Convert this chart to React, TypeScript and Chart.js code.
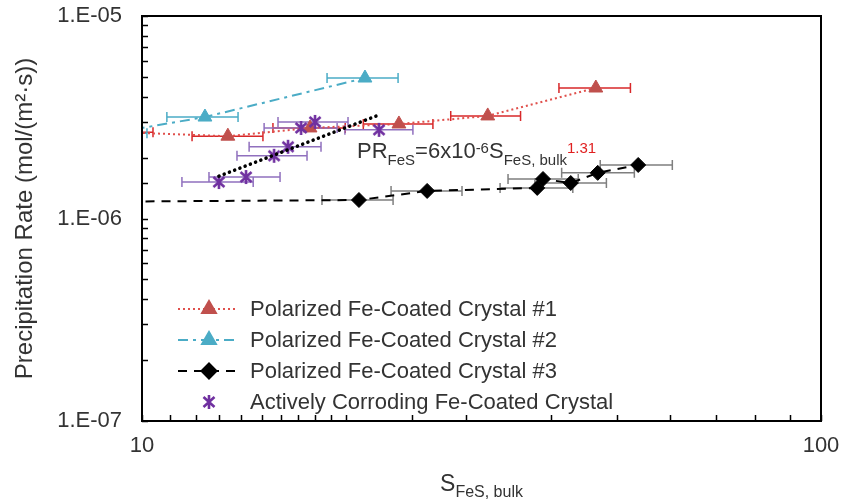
import React, { useEffect, useRef } from 'react';
import { Chart, registerables } from 'chart.js';
import { drawPoint } from 'chart.js/helpers';

Chart.register(...registerables);

const FONT = '"Liberation Sans", Arial, sans-serif';
const TEXT = '#333333';

// ---- axis ticks ----
const xLabeledTicks = [10, 100];
const xTickLabels = ['10', '100'];
const yLabeledTicks = [1e-7, 1e-6, 1e-5];
const yTickLabels = ['1.E-07', '1.E-06', '1.E-05'];

// ---- series 1: Polarized Fe-Coated Crystal #1 ----
const s1X = [9.22, 13.38, 17.68, 23.9, 32.3, 46.6];
const s1Y = [2.67e-6, 2.55e-6, 2.8e-6, 2.93e-6, 3.21e-6, 4.41e-6];
const s1XLow = [8.2, 11.85, 15.59, 21.18, 28.49, 41.12];
const s1XHigh = [10.38, 15.07, 19.92, 26.82, 36.1, 52.4];

// ---- series 2: Polarized Fe-Coated Crystal #2 ----
const s2X = [9.03, 12.38, 21.3];
const s2Y = [2.64e-6, 3.17e-6, 4.94e-6];
const s2XLow = [8.0, 10.88, 18.73];
const s2XHigh = [10.17, 13.85, 23.83];

// ---- series 3: Polarized Fe-Coated Crystal #3 ----
const s3X = [8.6, 20.87, 26.3, 38.2, 38.96, 42.8, 46.9, 53.8];
const s3Y = [1.21e-6, 1.234e-6, 1.368e-6, 1.416e-6, 1.567e-6, 1.497e-6, 1.68e-6, 1.838e-6];
const s3XLow = [7.65, 18.41, 23.27, 33.68, 34.6, 37.9, 41.5, 47.3];
const s3XHigh = [9.7, 23.43, 29.6, 43.1, 43.9, 48.3, 53.1, 60.4];

// ---- series 4: Actively Corroding Fe-Coated Crystal ----
const s4X = [12.98, 14.23, 15.65, 16.41, 17.15, 17.98, 22.34];
const s4Y = [1.514e-6, 1.603e-6, 2.04e-6, 2.26e-6, 2.8e-6, 3.0e-6, 2.74e-6];
const s4XLow = [11.45, 12.55, 13.8, 14.38, 15.13, 15.86, 19.9];
const s4XHigh = [14.58, 15.97, 17.5, 18.35, 19.38, 20.11, 25.06];

// ---- power-law trendline of series 4 (end points) ----
const trendX = [12.98, 22.3];
const trendY = [1.62e-6, 3.24e-6];

const legendLabels = [
  'Polarized Fe-Coated Crystal #1',
  'Polarized Fe-Coated Crystal #2',
  'Polarized Fe-Coated Crystal #3',
  'Actively Corroding Fe-Coated Crystal',
];

const RED = '#C0504D';
const RED_LINE = '#E0504C';
const RED_BAR = '#D8282A';
const BLUE = '#4BACC6';
const BLACK = '#000000';
const GRAY_BAR = '#7F7F7F';
const PURPLE = '#7030A0';
const PURPLE_BAR = '#9070BE';

function pts(xs: number[], ys: number[]) {
  return xs.map((x, i) => ({ x, y: ys[i] }));
}

function makeAsterisk(): HTMLCanvasElement {
  const c = document.createElement('canvas');
  c.width = 16;
  c.height = 16;
  const g = c.getContext('2d')!;
  g.strokeStyle = PURPLE;
  g.lineWidth = 2.6;
  g.lineCap = 'butt';
  g.beginPath();
  g.moveTo(2.5, 3);
  g.lineTo(13.5, 13);
  g.moveTo(13.5, 3);
  g.lineTo(2.5, 13);
  g.moveTo(8, 1);
  g.lineTo(8, 15);
  g.stroke();
  return c;
}

function matchLabel(v: number, ticks: number[], labels: string[]) {
  for (let i = 0; i < ticks.length; i++) {
    if (Math.abs(Math.log10(v) - Math.log10(ticks[i])) < 1e-6) return labels[i];
  }
  return '';
}

type Part = { t: string; size: number; dy: number; color?: string };

function drawRich(ctx: CanvasRenderingContext2D, x: number, base: number, parts: Part[], measureOnly = false) {
  let cx = x;
  for (const p of parts) {
    ctx.font = `${p.size}px ${FONT}`;
    if (!measureOnly) {
      ctx.fillStyle = p.color || TEXT;
      ctx.fillText(p.t, cx, base + p.dy);
    }
    cx += ctx.measureText(p.t).width;
  }
  return cx - x;
}

export default function App() {
  const ref = useRef<HTMLCanvasElement>(null);

  useEffect(() => {
    const canvas = ref.current!;
    const star = makeAsterisk();

    const errorSets = [
      { xs: s1X, ys: s1Y, lo: s1XLow, hi: s1XHigh, color: RED_BAR },
      { xs: s2X, ys: s2Y, lo: s2XLow, hi: s2XHigh, color: BLUE },
      { xs: s3X, ys: s3Y, lo: s3XLow, hi: s3XHigh, color: GRAY_BAR },
      { xs: s4X, ys: s4Y, lo: s4XLow, hi: s4XHigh, color: PURPLE_BAR },
    ];

    const legendItems = [
      { label: legendLabels[0], line: RED_LINE, dash: [2, 3], style: 'triangle', radius: 8, color: RED },
      { label: legendLabels[1], line: BLUE, dash: [10, 5, 3, 5], style: 'triangle', radius: 8, color: BLUE },
      { label: legendLabels[2], line: BLACK, dash: [9, 7], style: 'rectRot', radius: 7.5, color: BLACK },
      { label: legendLabels[3], line: null, dash: [], style: star, radius: 8, color: PURPLE },
    ];

    const overlay = {
      id: 'overlay',
      beforeDatasetsDraw(chart: any) {
        const { ctx, chartArea: a } = chart;
        const xs = chart.scales.x;
        const ys = chart.scales.y;
        ctx.save();
        ctx.beginPath();
        ctx.rect(a.left, a.top, a.right - a.left, a.bottom - a.top);
        ctx.clip();
        ctx.lineWidth = 1.5;
        for (const es of errorSets) {
          ctx.strokeStyle = es.color;
          es.xs.forEach((_: number, i: number) => {
            const py = ys.getPixelForValue(es.ys[i]);
            const x0 = xs.getPixelForValue(es.lo[i]);
            const x1 = xs.getPixelForValue(es.hi[i]);
            ctx.beginPath();
            ctx.moveTo(x0, py);
            ctx.lineTo(x1, py);
            ctx.moveTo(x0, py - 5);
            ctx.lineTo(x0, py + 5);
            ctx.moveTo(x1, py - 5);
            ctx.lineTo(x1, py + 5);
            ctx.stroke();
          });
        }
        ctx.restore();
      },
      afterDraw(chart: any) {
        const { ctx, chartArea: a } = chart;
        const xs = chart.scales.x;
        const ys = chart.scales.y;
        ctx.save();

        // inward tick marks
        ctx.strokeStyle = '#000';
        ctx.lineWidth = 1.5;
        ctx.beginPath();
        for (const t of ys.ticks) {
          const py = Math.round(ys.getPixelForValue(t.value)) + 0.5;
          ctx.moveTo(a.left, py);
          ctx.lineTo(a.left + 6, py);
        }
        for (const t of xs.ticks) {
          const px = Math.round(xs.getPixelForValue(t.value)) + 0.5;
          ctx.moveTo(px, a.bottom);
          ctx.lineTo(px, a.bottom - 6);
        }
        ctx.stroke();

        // frame
        ctx.lineWidth = 2;
        ctx.strokeRect(a.left, a.top, a.right - a.left, a.bottom - a.top);

        // y title
        ctx.save();
        ctx.translate(25, (a.top + a.bottom) / 2);
        ctx.rotate(-Math.PI / 2);
        ctx.font = `24px ${FONT}`;
        ctx.fillStyle = TEXT;
        ctx.textAlign = 'center';
        ctx.textBaseline = 'middle';
        ctx.fillText('Precipitation Rate (mol/(m²·s))', 0, 0);
        ctx.restore();

        // x title with subscript
        ctx.textBaseline = 'alphabetic';
        ctx.textAlign = 'left';
        const xt: Part[] = [
          { t: 'S', size: 23, dy: 0 },
          { t: 'FeS, bulk', size: 16, dy: 6 },
        ];
        const w = drawRich(ctx, 0, 0, xt, true);
        drawRich(ctx, (a.left + a.right) / 2 - w / 2, 491, xt);

        // equation annotation
        const eq: Part[] = [
          { t: 'PR', size: 22, dy: 0 },
          { t: 'FeS', size: 15, dy: 7 },
          { t: '=6x10', size: 22, dy: 0 },
          { t: '-6', size: 15, dy: -5 },
          { t: 'S', size: 22, dy: 0 },
          { t: 'FeS, bulk', size: 15, dy: 7 },
          { t: '1.31', size: 15, dy: -5, color: '#E02020' },
        ];
        drawRich(ctx, a.left + 215, a.top + 142, eq);

        // legend
        const rows = [309, 340, 371, 402];
        legendItems.forEach((it, i) => {
          const cy = rows[i];
          if (it.line) {
            ctx.save();
            ctx.strokeStyle = it.line;
            ctx.lineWidth = 2;
            ctx.setLineDash(it.dash);
            ctx.beginPath();
            ctx.moveTo(178, cy);
            ctx.lineTo(238, cy);
            ctx.stroke();
            ctx.restore();
          }
          ctx.save();
          ctx.fillStyle = it.color;
          ctx.strokeStyle = it.color;
          drawPoint(ctx, { pointStyle: it.style as any, radius: it.radius, rotation: 0, borderWidth: 1 } as any, 209, cy);
          ctx.restore();
          ctx.font = `22px ${FONT}`;
          ctx.fillStyle = TEXT;
          ctx.textBaseline = 'middle';
          ctx.textAlign = 'left';
          ctx.fillText(it.label, 250, cy + 1);
        });

        ctx.restore();
      },
    };

    const chart = new Chart(canvas, {
      type: 'line',
      data: {
        datasets: [
          {
            label: legendLabels[0],
            data: pts(s1X, s1Y),
            borderColor: RED_LINE,
            borderWidth: 2,
            borderDash: [2, 3],
            pointStyle: 'triangle',
            pointRadius: 8,
            pointBackgroundColor: RED,
            pointBorderColor: RED,
            pointBorderWidth: 1,
            order: 4,
          },
          {
            label: legendLabels[1],
            data: pts(s2X, s2Y),
            borderColor: BLUE,
            borderWidth: 2,
            borderDash: [10, 5, 3, 5],
            pointStyle: 'triangle',
            pointRadius: 8,
            pointBackgroundColor: BLUE,
            pointBorderColor: BLUE,
            pointBorderWidth: 1,
            order: 3,
          },
          {
            label: legendLabels[2],
            data: pts(s3X, s3Y),
            borderColor: BLACK,
            borderWidth: 2,
            borderDash: [9, 7],
            pointStyle: 'rectRot',
            pointRadius: 7.5,
            pointBackgroundColor: BLACK,
            pointBorderColor: BLACK,
            pointBorderWidth: 1,
            order: 2,
          },
          {
            label: legendLabels[3],
            data: pts(s4X, s4Y),
            showLine: false,
            pointStyle: star as any,
            pointRadius: 8,
            borderColor: PURPLE,
            backgroundColor: PURPLE,
            order: 1,
          },
          {
            label: 'trend',
            data: pts(trendX, trendY),
            borderColor: BLACK,
            borderWidth: 3.5,
            borderDash: [0.1, 5.5],
            borderCapStyle: 'round',
            pointRadius: 0,
            order: 0,
          },
        ],
      },
      options: {
        animation: false,
        responsive: false,
        events: [],
        layout: { padding: { left: 0, right: 22, top: 16, bottom: 0 } },
        plugins: {
          legend: { display: false },
          tooltip: { enabled: false },
          title: { display: false },
        },
        scales: {
          x: {
            type: 'logarithmic',
            position: 'bottom',
            min: 10,
            max: 100,
            grid: { display: false, drawTicks: false },
            border: { display: false },
            ticks: {
              autoSkip: false,
              maxRotation: 0,
              padding: 12,
              color: TEXT,
              font: { family: FONT, size: 22 },
              callback: (v: any) => matchLabel(Number(v), xLabeledTicks, xTickLabels),
            },
            afterFit: (s: any) => {
              s.height = 80;
              s.paddingLeft = 0;
              s.paddingRight = 0;
              s.paddingTop = 0;
              s.paddingBottom = 0;
            },
          },
          y: {
            type: 'logarithmic',
            position: 'left',
            min: 1e-7,
            max: 1e-5,
            grid: { display: false, drawTicks: false },
            border: { display: false },
            ticks: {
              autoSkip: false,
              padding: 20,
              color: TEXT,
              font: { family: FONT, size: 22 },
              callback: (v: any) => matchLabel(Number(v), yLabeledTicks, yTickLabels),
            },
            afterFit: (s: any) => {
              s.width = 142;
              s.paddingLeft = 0;
              s.paddingRight = 0;
              s.paddingTop = 0;
              s.paddingBottom = 0;
            },
          },
        },
      } as any,
      plugins: [overlay],
    });

    return () => chart.destroy();
  }, []);

  return (
    <div style={{ position: 'fixed', left: 0, top: 0, width: 843, height: 501, background: '#fff' }}>
      <canvas ref={ref} width={843} height={501} style={{ display: 'block' }} />
    </div>
  );
}
